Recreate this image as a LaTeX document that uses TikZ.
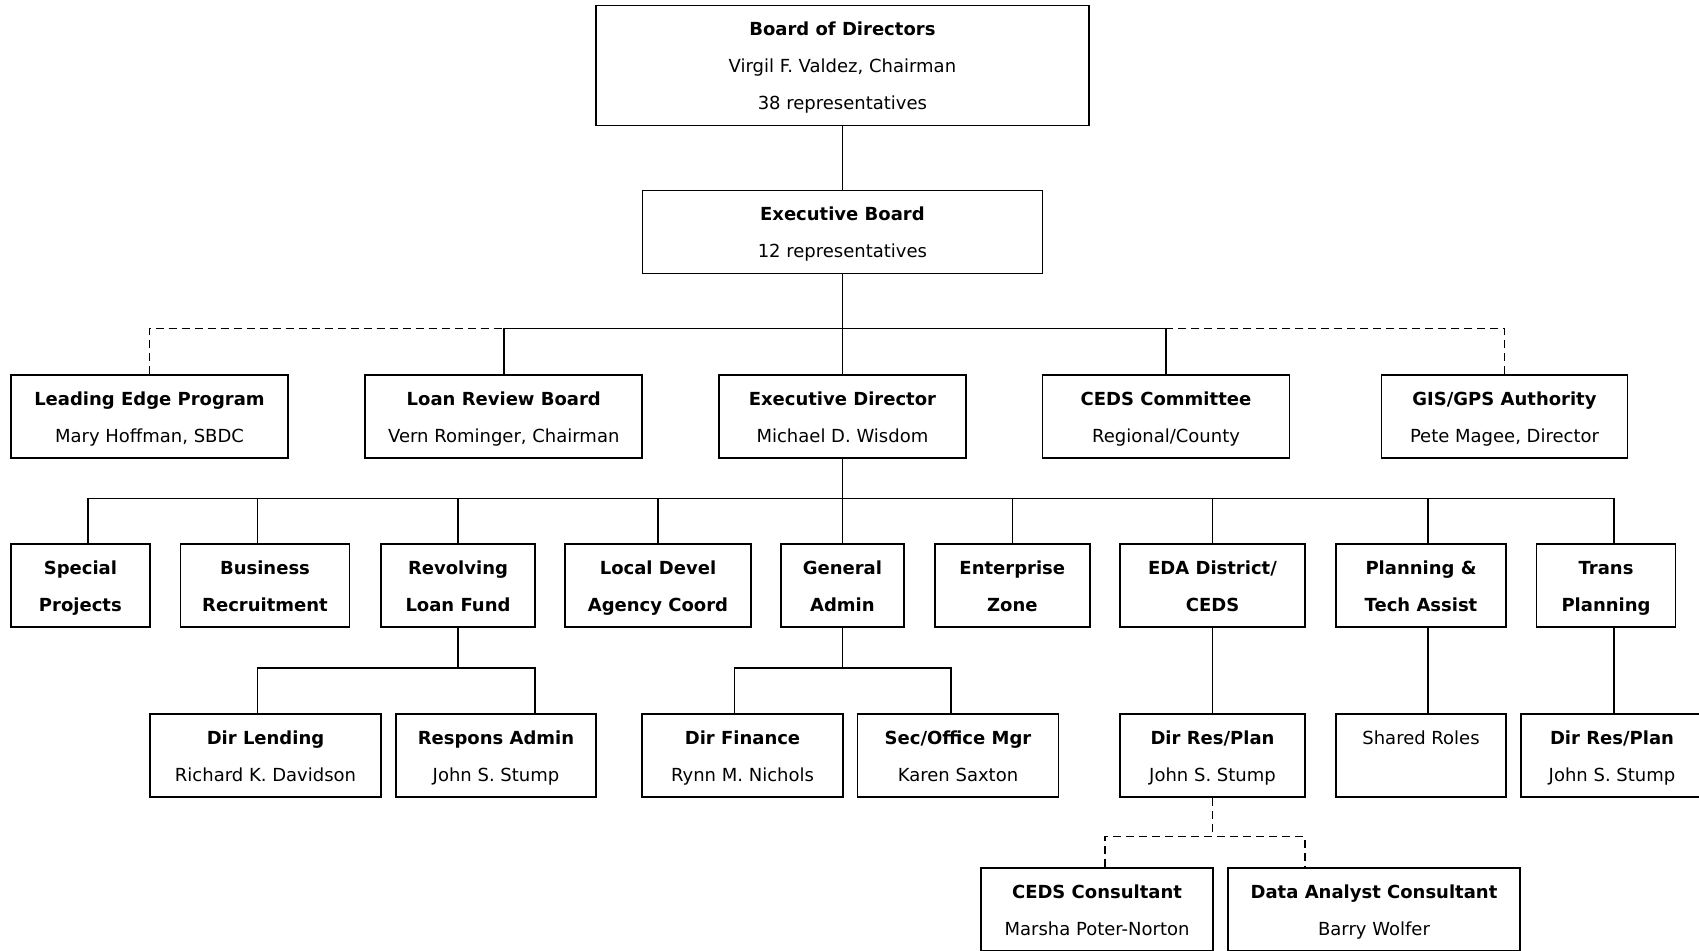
\documentclass[tikz,border=0pt]{standalone}
\usepackage{fontspec}
\setmainfont{DejaVu Sans}
\newcommand{\topgap}{\rule{0pt}{30.3pt}}
\begin{document}
\begin{tikzpicture}[x=1pt,y=-1pt,
        box/.style={draw,line width=1.7pt,inner sep=0pt,align=center,font=\fontsize{18}{37}\selectfont,
          execute at end node=\rule[-15.7pt]{0pt}{15.7pt}},
        link/.style={line width=1.5pt},
        dashlink/.style={line width=1.5pt,dash pattern=on 8pt off 5pt}]
        \useasboundingbox (0,0) rectangle (1699,950);
        % top boards
        \node[box,minimum width=493pt,minimum height=120pt] (board) at (842.4,65.5) {\topgap\textbf{Board of Directors}\\Virgil F. Valdez, Chairman\\38 representatives};
        \node[box,minimum width=400pt,minimum height=82pt] (exec) at (842.4,232) {\topgap\textbf{Executive Board}\\12 representatives};
        % second row
        \node[box,minimum width=277pt,minimum height=83pt] (lep) at (149.5,416.5) {\topgap\textbf{Leading Edge Program}\\Mary Hoffman, SBDC};
        \node[box,minimum width=277pt,minimum height=83pt] (lrb) at (503.8,416.5) {\topgap\textbf{Loan Review Board}\\Vern Rominger, Chairman};
        \node[box,minimum width=247pt,minimum height=83pt] (ed) at (842.4,416.5) {\topgap\textbf{Executive Director}\\Michael D. Wisdom};
        \node[box,minimum width=247pt,minimum height=83pt] (ceds) at (1166,416.5) {\topgap\textbf{CEDS Committee}\\Regional/County};
        \node[box,minimum width=246pt,minimum height=83pt] (gis) at (1504.5,416.5) {\topgap\textbf{GIS/GPS Authority}\\Pete Magee, Director};
        % third row
        \node[box,minimum width=139pt,minimum height=83pt] (sp) at (80.4,585.5) {\topgap\textbf{Special}\\\textbf{Projects}};
        \node[box,minimum width=169pt,minimum height=83pt] (br) at (265,585.5) {\topgap\textbf{Business}\\\textbf{Recruitment}};
        \node[box,minimum width=154pt,minimum height=83pt] (rlf) at (458,585.5) {\topgap\textbf{Revolving}\\\textbf{Loan Fund}};
        \node[box,minimum width=186pt,minimum height=83pt] (ldac) at (658,585.5) {\topgap\textbf{Local Devel}\\\textbf{Agency Coord}};
        \node[box,minimum width=123pt,minimum height=83pt] (ga) at (842.4,585.5) {\topgap\textbf{General}\\\textbf{Admin}};
        \node[box,minimum width=155pt,minimum height=83pt] (ez) at (1012.3,585.5) {\topgap\textbf{Enterprise}\\\textbf{Zone}};
        \node[box,minimum width=185pt,minimum height=83pt] (eda) at (1212.5,585.5) {\topgap\textbf{EDA District/}\\\textbf{CEDS}};
        \node[box,minimum width=170pt,minimum height=83pt] (pta) at (1421,585.5) {\topgap\textbf{Planning \&}\\\textbf{Tech Assist}};
        \node[box,minimum width=139pt,minimum height=83pt] (tp) at (1606,585.5) {\topgap\textbf{Trans}\\\textbf{Planning}};
        % fourth row
        \node[box,minimum width=231pt,minimum height=83pt] (dl) at (265.5,755.8) {\topgap\textbf{Dir Lending}\\Richard K. Davidson};
        \node[box,minimum width=200pt,minimum height=83pt] (ra) at (496,755.8) {\topgap\textbf{Respons Admin}\\John S. Stump};
        \node[box,minimum width=201pt,minimum height=83pt] (df) at (742.5,755.8) {\topgap\textbf{Dir Finance}\\Rynn M. Nichols};
        \node[box,minimum width=201pt,minimum height=83pt] (som) at (958,755.8) {\topgap\textbf{Sec/Office Mgr}\\Karen Saxton};
        \node[box,minimum width=185pt,minimum height=83pt] (drp) at (1212.5,755.8) {\topgap\textbf{Dir Res/Plan}\\John S. Stump};
        \node[box,minimum width=170pt,minimum height=83pt] (sr) at (1421,755.8) {\topgap Shared Roles\\~};
        \node[box,minimum width=182pt,minimum height=83pt] (drpt) at (1612,755.8) {\topgap\textbf{Dir Res/Plan}\\John S. Stump};
        % consultants
        \node[box,minimum width=232pt,minimum height=83pt] (cc) at (1097,909.5) {\topgap\textbf{CEDS Consultant}\\Marsha Poter-Norton};
        \node[box,minimum width=292pt,minimum height=83pt] (dac) at (1374,909.5) {\topgap\textbf{Data Analyst Consultant}\\Barry Wolfer};
        % bus lines
        \coordinate (bus1) at (842.4,328.3);
        \coordinate (bus2) at (842.4,498.4);
        \coordinate (bus3) at (458,668);
        \coordinate (bus4) at (842.4,668);
        \coordinate (bus5) at (1212.5,836.5);
        \draw[link] (board) -- (exec);
        \draw[link] (exec.south) -- (ed.north);
        \draw[link] (lrb.north) |- (bus1) -| (ceds.north);
        \draw[dashlink] (lep.north) |- (lrb.north |- bus1);
        \draw[dashlink] (gis.north) |- (ceds.north |- bus1);
        \draw[link] (ed.south) -- (ga.north);
        \draw[link] ([xshift=7.6pt]sp.north) |- (bus2) -| ([xshift=8pt]tp.north);
        \foreach \n/\s in {br/-7.5,rlf/0,ldac/0,ez/0,eda/0,pta/7}
          \draw[link] ([xshift=\s pt]\n.north) -- ([xshift=\s pt]\n.north |- bus2);
        \draw[link] (rlf.south) -- (bus3);
        \draw[link] ([xshift=-8pt]dl.north) |- (bus3) -| ([xshift=39pt]ra.north);
        \draw[link] (ga.south) -- (bus4);
        \draw[link] ([xshift=-8pt]df.north) |- (bus4) -| ([xshift=-7pt]som.north);
        \draw[link] (eda) -- (drp);
        \draw[link] ([xshift=7pt]pta.south) -- ([xshift=7pt]sr.north);
        \draw[link] ([xshift=8pt]tp.south) -- ([xshift=2pt]drpt.north);
        \draw[dashlink] (drp.south) -- (bus5);
        \draw[dashlink] ([xshift=8pt]cc.north) |- (bus5) -| ([xshift=-69pt]dac.north);
\end{tikzpicture}
\end{document}
